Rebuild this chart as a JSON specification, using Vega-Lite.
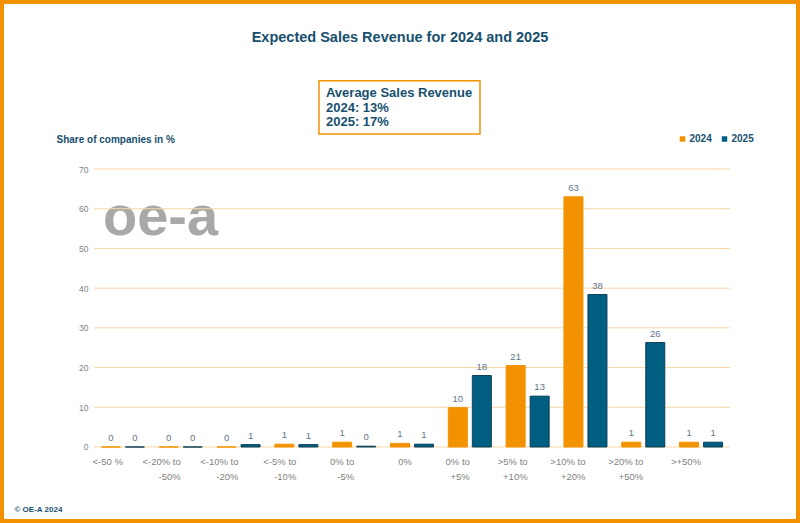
{
  "$schema": "https://vega.github.io/schema/vega-lite/v6.json",
  "width": 800,
  "height": 523,
  "autosize": {"type": "none"},
  "padding": 0,
  "background": "white",
  "title": {
    "text": "Expected Sales Revenue for 2024 and 2025",
    "anchor": "middle",
    "frame": "group",
    "offset": -45,
    "fontSize": 14.5,
    "fontWeight": "bold",
    "color": "#17506E"
  },
  "datasets": {
    "sales": [
      {"cat": "<-50 %", "year": "2024", "v": 0},
      {"cat": "<-50 %", "year": "2025", "v": 0},
      {"cat": "<-20% to -50%", "year": "2024", "v": 0},
      {"cat": "<-20% to -50%", "year": "2025", "v": 0},
      {"cat": "<-10% to -20%", "year": "2024", "v": 0},
      {"cat": "<-10% to -20%", "year": "2025", "v": 0.6},
      {"cat": "<-5% to -10%", "year": "2024", "v": 0.7},
      {"cat": "<-5% to -10%", "year": "2025", "v": 0.6},
      {"cat": "0% to -5%", "year": "2024", "v": 1.2},
      {"cat": "0% to -5%", "year": "2025", "v": 0.2},
      {"cat": "0%", "year": "2024", "v": 0.9},
      {"cat": "0%", "year": "2025", "v": 0.7},
      {"cat": "0% to +5%", "year": "2024", "v": 9.9},
      {"cat": "0% to +5%", "year": "2025", "v": 18.0},
      {"cat": ">5% to +10%", "year": "2024", "v": 20.5},
      {"cat": ">5% to +10%", "year": "2025", "v": 12.8},
      {"cat": ">10% to +20%", "year": "2024", "v": 63.0},
      {"cat": ">10% to +20%", "year": "2025", "v": 38.4},
      {"cat": ">20% to +50%", "year": "2024", "v": 1.2},
      {"cat": ">20% to +50%", "year": "2025", "v": 26.3},
      {"cat": ">+50%", "year": "2024", "v": 1.2},
      {"cat": ">+50%", "year": "2025", "v": 1.2}
    ],
    "grid": [
      {"g": 0}, {"g": 10}, {"g": 20}, {"g": 30}, {"g": 40}, {"g": 50}, {"g": 60}, {"g": 70}
    ],
    "note": [
      {"text": "Average Sales Revenue\n2024: 13%\n2025: 17%", "logo": "oe-a"}
    ]
  },
  "layer": [
    {
      "data": {"name": "note"},
      "mark": {"type": "text", "align": "left", "baseline": "alphabetic", "fontSize": 56, "fontWeight": "bold", "fill": "#A8A8A8", "clip": false},
      "encoding": {
        "x": {"datum": "<-50 %", "bandPosition": 0.156},
        "y": {"datum": 53.4},
        "text": {"field": "logo"}
      }
    },
    {
      "data": {"name": "grid"},
      "mark": {"type": "rule", "color": "#F9D6A8", "strokeWidth": 1},
      "encoding": {
        "y": {"field": "g", "type": "quantitative"},
        "x": {"datum": "<-50 %", "bandPosition": 0},
        "x2": {"datum": ">+50%", "bandPosition": 1}
      }
    },
    {
      "data": {"name": "sales"},
      "mark": {"type": "bar", "strokeWidth": 1},
      "encoding": {
        "x": {
          "field": "cat",
          "type": "nominal",
          "sort": null,
          "scale": {
            "domain": ["<-50 %", "<-20% to -50%", "<-10% to -20%", "<-5% to -10%", "0% to -5%", "0%", "0% to +5%", ">5% to +10%", ">10% to +20%", ">20% to +50%", ">+50%"],
            "range": [94, 730],
            "paddingInner": 0,
            "paddingOuter": 0,
            "round": false
          },
          "axis": {
            "orient": "bottom",
            "offset": -76,
            "domain": false,
            "ticks": false,
            "grid": false,
            "labelAngle": 0,
            "labelPadding": 9,
            "labelBaseline": "top",
            "labelLineHeight": 15,
            "labelFontSize": 9.5,
            "labelColor": "#7F7F7F",
            "labelExpr": "split(replace(datum.label, 'to ', 'to|'), '|')",
            "title": "© OE-A 2024",
            "titleX": 14,
            "titleY": 62,
            "titleAlign": "left",
            "titleBaseline": "middle",
            "titleFontSize": 8,
            "titleFontWeight": "bold",
            "titleColor": "#17506E"
          }
        },
        "xOffset": {
          "field": "year",
          "type": "nominal",
          "scale": {"paddingInner": 0.208, "paddingOuter": 0.308}
        },
        "y": {
          "field": "v",
          "type": "quantitative",
          "scale": {"domain": [-19.14, 112.56], "nice": false, "zero": false},
          "axis": {
            "orient": "left",
            "values": [0, 10, 20, 30, 40, 50, 60, 70],
            "offset": -94,
            "domain": false,
            "ticks": false,
            "grid": false,
            "labelPadding": 6,
            "labelFontSize": 8.5,
            "labelColor": "#7F7F7F",
            "title": "Share of companies in %",
            "titleAngle": 0,
            "titleX": -38,
            "titleY": 139,
            "titleAlign": "left",
            "titleBaseline": "middle",
            "titleFontSize": 10,
            "titleFontWeight": "bold",
            "titleColor": "#17506E"
          }
        },
        "y2": {"datum": 0},
        "color": {
          "field": "year",
          "type": "nominal",
          "scale": {"domain": ["2024", "2025"], "range": ["#F39200", "#005F80"]},
          "legend": {
            "orient": "none",
            "legendX": 677.5,
            "legendY": 134,
            "direction": "horizontal",
            "title": null,
            "symbolType": "square",
            "symbolSize": 30,
            "symbolStrokeWidth": 0,
            "labelFontSize": 10,
            "labelFontWeight": "bold",
            "labelColor": "#17506E",
            "labelOffset": 2,
            "columnPadding": 7
          }
        },
        "stroke": {
          "field": "year",
          "type": "nominal",
          "scale": {"domain": ["2024", "2025"], "range": ["#F39200", "#0B4159"]},
          "legend": null
        }
      }
    },
    {
      "data": {"name": "sales"},
      "mark": {"type": "text", "baseline": "bottom", "dy": -4, "fontSize": 9.5, "fill": "#5F7488"},
      "encoding": {
        "x": {"field": "cat", "type": "nominal", "sort": null},
        "xOffset": {"field": "year", "type": "nominal"},
        "y": {"field": "v", "type": "quantitative"},
        "text": {"field": "v", "type": "quantitative", "format": ".0f"}
      }
    },
    {
      "data": {"name": "note"},
      "mark": {"type": "rect", "fill": "white", "stroke": "#F39200", "strokeWidth": 1.5, "clip": false},
      "encoding": {
        "x": {"datum": "<-5% to -10%", "bandPosition": 0.891},
        "x2": {"datum": "0% to +5%", "bandPosition": 0.676},
        "y": {"datum": 92.2},
        "y2": {"datum": 78.8}
      }
    },
    {
      "data": {"name": "note"},
      "mark": {"type": "text", "align": "left", "baseline": "top", "lineBreak": "\n", "lineHeight": 14.5, "fontSize": 13, "fontWeight": "bold", "fill": "#17506E", "clip": false},
      "encoding": {
        "x": {"datum": "0% to -5%", "bandPosition": 0.012},
        "y": {"datum": 90.6},
        "text": {"field": "text"}
      }
    }
  ],
  "config": {
    "font": "Liberation Sans",
    "view": {"stroke": "#F39200", "strokeWidth": 8}
  }
}
